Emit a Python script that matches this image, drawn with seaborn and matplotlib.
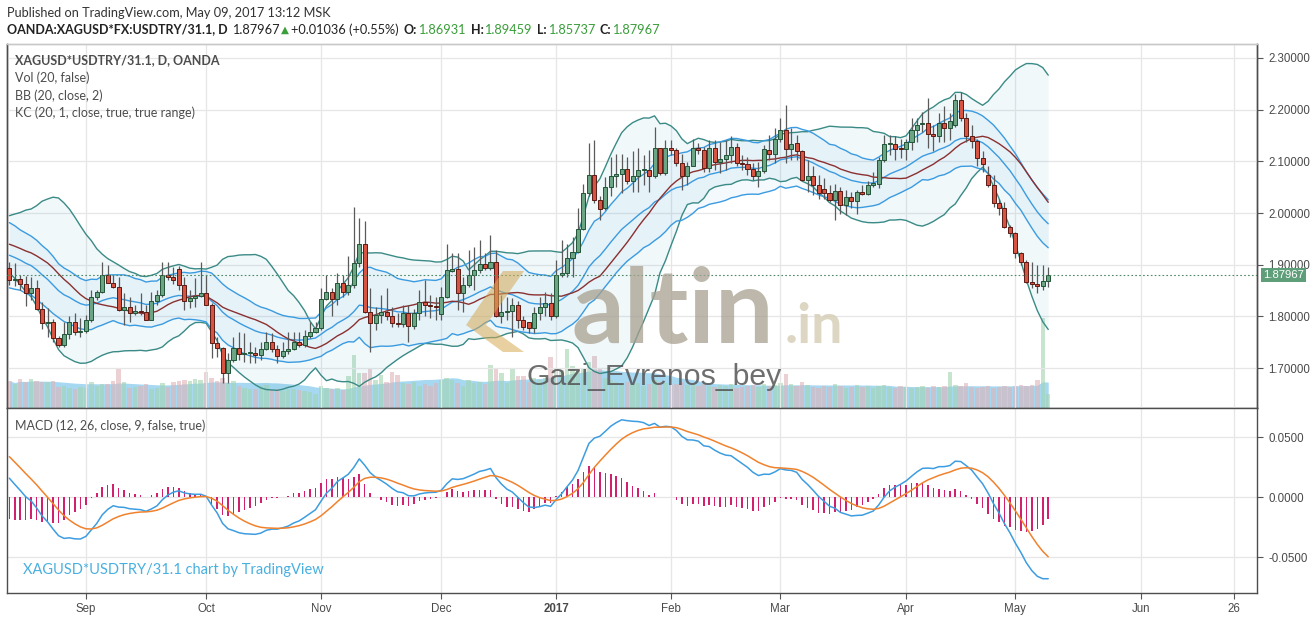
import numpy as np
import pandas as pd
import matplotlib
matplotlib.use("Agg")
import matplotlib.pyplot as plt
import matplotlib.transforms as mtransforms
from matplotlib.patches import Polygon
import seaborn as sns

sns.set_theme(style="white")
plt.rcParams["font.family"] = ["Lato", "DejaVu Sans"]

# ---------------- data ----------------
# estimated closes before the first visible bar (only used to warm up the indicators)
pre_close = [1.58, 1.59, 1.60, 1.61, 1.62, 1.63, 1.64, 1.63, 1.64, 1.66, 1.69, 1.75,
             1.76, 1.79, 1.82, 1.85, 1.89, 1.93, 1.95, 1.91, 1.89, 1.88,
             1.89, 1.91, 1.92, 1.91, 1.93, 1.95, 1.95, 1.94, 1.93, 1.93,
             1.92, 1.93, 1.95, 1.97, 1.98, 1.97, 1.98, 1.97, 1.95, 1.93,
             1.94, 1.93, 1.91, 1.893]
pre_true_range = 0.065

open_ = [1.893, 1.870, 1.872, 1.862, 1.845, 1.854, 1.814, 1.787, 1.789, 1.758,
         1.745, 1.766, 1.789, 1.769, 1.771, 1.794, 1.837, 1.847, 1.880, 1.865,
         1.857, 1.812, 1.819, 1.806, 1.811, 1.808, 1.794, 1.830, 1.841, 1.880,
         1.877, 1.891, 1.861, 1.829, 1.836, 1.840, 1.845, 1.823, 1.748, 1.738,
         1.690, 1.716, 1.738, 1.727, 1.729, 1.730, 1.725, 1.736, 1.751, 1.736,
         1.723, 1.733, 1.736, 1.751, 1.745, 1.762, 1.770, 1.777, 1.833, 1.847,
         1.833, 1.864, 1.848, 1.861, 1.903, 1.941, 1.809, 1.787, 1.803, 1.809,
         1.800, 1.787, 1.786, 1.806, 1.782, 1.806, 1.827, 1.822, 1.820, 1.805,
         1.838, 1.887, 1.891, 1.846, 1.861, 1.880, 1.889, 1.901, 1.894, 1.906,
         1.800, 1.809, 1.811, 1.822, 1.793, 1.790, 1.777, 1.806, 1.818, 1.826,
         1.800, 1.880, 1.883, 1.912, 1.924, 1.970, 2.038, 2.074, 2.025, 2.009,
         2.051, 2.072, 2.076, 2.085, 2.062, 2.072, 2.083, 2.083, 2.071, 2.125,
         2.077, 2.125, 2.121, 2.096, 2.072, 2.091, 2.125, 2.121, 2.088, 2.125,
         2.099, 2.104, 2.112, 2.127, 2.097, 2.094, 2.086, 2.071, 2.081, 2.122,
         2.114, 2.143, 2.161, 2.124, 2.136, 2.120, 2.064, 2.072, 2.054, 2.046,
         2.038, 2.026, 2.043, 2.016, 2.030, 2.023, 2.041, 2.037, 2.054, 2.056,
         2.103, 2.133, 2.133, 2.126, 2.124, 2.137, 2.160, 2.172, 2.174, 2.152,
         2.148, 2.175, 2.164, 2.171, 2.219, 2.184, 2.148, 2.139, 2.106, 2.074,
         2.055, 2.020, 2.009, 1.972, 1.961, 1.922, 1.906, 1.867, 1.862, 1.858,
         1.86931]

high = [1.906, 1.903, 1.880, 1.878, 1.877, 1.870, 1.827, 1.816, 1.795, 1.762,
        1.790, 1.800, 1.806, 1.796, 1.803, 1.851, 1.851, 1.906, 1.899, 1.880,
        1.877, 1.845, 1.838, 1.822, 1.845, 1.822, 1.848, 1.851, 1.906, 1.906,
        1.896, 1.897, 1.877, 1.851, 1.874, 1.906, 1.880, 1.825, 1.761, 1.741,
        1.729, 1.761, 1.770, 1.767, 1.751, 1.741, 1.751, 1.770, 1.767, 1.745,
        1.751, 1.770, 1.770, 1.770, 1.774, 1.790, 1.790, 1.854, 1.880, 1.854,
        1.883, 1.880, 1.916, 2.012, 1.990, 1.985, 1.854, 1.819, 1.841, 1.854,
        1.819, 1.806, 1.822, 1.822, 1.815, 1.851, 1.870, 1.841, 1.838, 1.857,
        1.941, 1.922, 1.922, 1.877, 1.928, 1.935, 1.948, 1.922, 1.957, 1.928,
        1.841, 1.838, 1.835, 1.829, 1.800, 1.790, 1.819, 1.838, 1.848, 1.845,
        1.909, 1.948, 1.941, 1.954, 2.009, 2.057, 2.135, 2.141, 2.032, 2.070,
        2.109, 2.115, 2.115, 2.109, 2.119, 2.125, 2.112, 2.122, 2.167, 2.125,
        2.141, 2.141, 2.125, 2.115, 2.099, 2.144, 2.135, 2.128, 2.141, 2.141,
        2.138, 2.141, 2.148, 2.135, 2.112, 2.109, 2.096, 2.099, 2.132, 2.151,
        2.164, 2.183, 2.209, 2.164, 2.151, 2.122, 2.103, 2.090, 2.074, 2.067,
        2.054, 2.057, 2.051, 2.044, 2.041, 2.044, 2.054, 2.061, 2.080, 2.109,
        2.151, 2.151, 2.148, 2.144, 2.144, 2.183, 2.183, 2.196, 2.222, 2.170,
        2.193, 2.206, 2.193, 2.231, 2.235, 2.193, 2.170, 2.144, 2.119, 2.090,
        2.074, 2.028, 2.022, 1.977, 1.964, 1.925, 1.909, 1.906, 1.899, 1.899,
        1.89459]

low = [1.861, 1.858, 1.851, 1.820, 1.832, 1.812, 1.775, 1.761, 1.750, 1.741,
       1.741, 1.757, 1.764, 1.761, 1.767, 1.790, 1.832, 1.845, 1.864, 1.854,
       1.810, 1.783, 1.790, 1.803, 1.803, 1.793, 1.793, 1.822, 1.837, 1.870,
       1.862, 1.852, 1.812, 1.816, 1.819, 1.838, 1.822, 1.719, 1.722, 1.671,
       1.671, 1.712, 1.716, 1.712, 1.709, 1.709, 1.716, 1.735, 1.732, 1.709,
       1.719, 1.728, 1.735, 1.741, 1.741, 1.758, 1.767, 1.774, 1.832, 1.800,
       1.822, 1.838, 1.841, 1.855, 1.895, 1.806, 1.732, 1.774, 1.787, 1.793,
       1.780, 1.780, 1.780, 1.751, 1.775, 1.793, 1.800, 1.797, 1.793, 1.793,
       1.835, 1.885, 1.812, 1.809, 1.857, 1.851, 1.883, 1.890, 1.890, 1.799,
       1.787, 1.793, 1.761, 1.777, 1.774, 1.768, 1.767, 1.793, 1.800, 1.793,
       1.797, 1.877, 1.877, 1.877, 1.922, 1.967, 2.032, 2.019, 1.986, 2.006,
       2.032, 2.051, 2.038, 2.057, 2.041, 2.041, 2.054, 2.041, 2.067, 2.074,
       2.074, 2.112, 2.090, 2.044, 2.054, 2.090, 2.115, 2.080, 2.080, 2.083,
       2.077, 2.083, 2.096, 2.090, 2.083, 2.074, 2.064, 2.051, 2.077, 2.103,
       2.096, 2.138, 2.096, 2.102, 2.102, 2.061, 2.041, 2.035, 2.028, 2.028,
       2.022, 1.986, 1.999, 1.996, 2.009, 1.999, 2.035, 2.035, 2.051, 2.048,
       2.099, 2.112, 2.103, 2.106, 2.103, 2.122, 2.138, 2.157, 2.125, 2.119,
       2.138, 2.138, 2.141, 2.167, 2.177, 2.138, 2.125, 2.090, 2.080, 2.051,
       2.012, 1.996, 1.971, 1.954, 1.912, 1.899, 1.864, 1.854, 1.845, 1.851,
       1.85737]

close = [1.870, 1.872, 1.862, 1.845, 1.854, 1.814, 1.787, 1.789, 1.758, 1.745,
         1.766, 1.789, 1.769, 1.771, 1.794, 1.837, 1.847, 1.880, 1.865, 1.857,
         1.812, 1.819, 1.806, 1.811, 1.808, 1.794, 1.830, 1.841, 1.880, 1.877,
         1.870, 1.861, 1.829, 1.836, 1.840, 1.845, 1.823, 1.748, 1.738, 1.690,
         1.716, 1.738, 1.727, 1.729, 1.730, 1.725, 1.736, 1.751, 1.736, 1.723,
         1.733, 1.736, 1.751, 1.745, 1.762, 1.770, 1.777, 1.833, 1.847, 1.833,
         1.864, 1.848, 1.861, 1.903, 1.941, 1.809, 1.787, 1.803, 1.809, 1.800,
         1.787, 1.786, 1.806, 1.782, 1.806, 1.827, 1.822, 1.820, 1.818, 1.838,
         1.890, 1.891, 1.846, 1.861, 1.880, 1.889, 1.901, 1.894, 1.906, 1.800,
         1.809, 1.811, 1.822, 1.793, 1.780, 1.777, 1.806, 1.818, 1.826, 1.800,
         1.880, 1.883, 1.912, 1.924, 1.970, 2.038, 2.074, 2.025, 2.007, 2.051,
         2.072, 2.076, 2.085, 2.062, 2.072, 2.083, 2.083, 2.071, 2.125, 2.077,
         2.125, 2.121, 2.096, 2.072, 2.091, 2.125, 2.121, 2.088, 2.125, 2.099,
         2.104, 2.112, 2.127, 2.097, 2.094, 2.086, 2.071, 2.081, 2.124, 2.114,
         2.143, 2.161, 2.124, 2.133, 2.120, 2.064, 2.072, 2.054, 2.038, 2.038,
         2.026, 2.043, 2.016, 2.030, 2.023, 2.041, 2.037, 2.054, 2.058, 2.103,
         2.133, 2.135, 2.123, 2.124, 2.137, 2.160, 2.171, 2.174, 2.152, 2.148,
         2.175, 2.164, 2.178, 2.219, 2.184, 2.148, 2.139, 2.106, 2.095, 2.055,
         2.020, 2.009, 1.972, 1.961, 1.922, 1.906, 1.867, 1.862, 1.858, 1.86931,
         1.87967]

volume = [27, 24, 29, 26, 29, 27, 26, 26, 27, 21, 22, 20, 19, 21, 20, 26, 22, 24, 24, 27,
          39, 26, 20, 21, 22, 24, 19, 20, 25, 21, 26, 27,
          28, 27, 29, 28, 36, 30, 27, 30, 25, 27, 22, 20, 19, 19, 22, 23, 18, 19, 17, 19,
          19, 18, 17, 16, 14, 22, 20, 19, 20, 18, 32, 53,
          35, 35, 40, 28, 33, 26, 36, 33, 25, 24, 26, 22, 24, 22, 25, 28, 30, 28, 25, 22,
          28, 25, 26, 24, 43, 39, 35, 25, 40, 32, 32, 26,
          30, 28, 30, 51, 40, 38, 59, 42, 38, 40, 46, 52, 40, 30, 28, 26, 25, 26, 24, 25,
          22, 24, 28, 26, 25, 23, 24, 26, 23, 24, 22, 24,
          22, 21, 23, 22, 24, 20, 21, 22, 23, 21, 24, 22, 23, 25, 34, 24, 22, 26, 23, 21,
          20, 22, 21, 24, 22, 20, 21, 23, 21, 22, 20,
          22, 23, 21, 20, 22, 21, 20, 21, 22, 20, 22, 21, 22, 36, 23, 22, 25, 21, 20, 21,
          22, 20, 21, 22, 21, 22, 23, 22, 23, 28, 90, 14]

holidays = ["2016-12-26", "2017-01-02"]
first_day, last_day, axis_end = "2016-08-12", "2017-05-09", "2017-06-30"
price_ticks = [1.7, 1.8, 1.9, 2.0, 2.1, 2.2, 2.3]
macd_ticks = [-0.05, 0.0, 0.05]
last_price = 1.87967

# ---------------- indicators ----------------
n = len(close)
npre = len(pre_close)
c_all = pd.Series(pre_close + close)
sma20 = c_all.rolling(20).mean()
sd20 = c_all.rolling(20).std(ddof=0)
bb_up, bb_lo = sma20 + 2 * sd20, sma20 - 2 * sd20
ema20 = c_all.ewm(span=20, adjust=False).mean()
prev_c = [pre_close[-1]] + close[:-1]
tr = [max(h - l, abs(h - pc), abs(l - pc)) for h, l, pc in zip(high, low, prev_c)]
rng = pd.Series([pre_true_range] * npre + tr).ewm(span=20, adjust=False).mean()
kc_up, kc_lo = ema20 + rng, ema20 - rng
macd = c_all.ewm(span=12, adjust=False).mean() - c_all.ewm(span=26, adjust=False).mean()
signal = macd.ewm(span=9, adjust=False).mean()
hist = macd - signal


def vis(s):
    return s.iloc[npre:].to_numpy()


bb_up, bb_lo, sma20 = vis(bb_up), vis(bb_lo), vis(sma20)
kc_up, kc_lo, ema20 = vis(kc_up), vis(kc_lo), vis(ema20)
macd, signal, hist = vis(macd), vis(signal), vis(hist)
vol_ma = pd.Series(volume).rolling(20, min_periods=1).mean().to_numpy()

xs = np.arange(n)
o, h, l, c = map(np.asarray, (open_, high, low, close))

# trading-day calendar for the axis
days = pd.bdate_range(first_day, axis_end)
days = days[~days.isin(pd.to_datetime(holidays))]
tick_pos, tick_lab = [], []
for i in range(1, len(days)):
    if days[i].month != days[i - 1].month:
        tick_pos.append(i)
        tick_lab.append("2017" if days[i].month == 1 else days[i].strftime("%b"))
j26 = int(np.where(days == pd.Timestamp("2017-06-26"))[0][0])
tick_pos.append(j26)
tick_lab.append("26")

# ---------------- figure ----------------
W, H = 1314, 618
fig = plt.figure(figsize=(W / 100, H / 100), dpi=100)
fig.patch.set_facecolor("white")

left_px, right_px = 6.7, 1257
top_px, sep_px, bot_px = 43.5, 408, 593
ax_rect = [left_px / W, 1 - sep_px / H, (right_px - left_px) / W, (sep_px - top_px) / H]
ax2_rect = [left_px / W, 1 - bot_px / H, (right_px - left_px) / W, (bot_px - sep_px) / H]

axv = fig.add_axes(ax_rect)
ax = fig.add_axes(ax_rect, sharex=axv)
ax2 = fig.add_axes(ax2_rect, sharex=axv)
axv.set_zorder(0)
ax.set_zorder(1)
ax.patch.set_visible(False)

bar_px = 5.468
x_lo = -(9.3 - left_px) / bar_px
x_hi = (right_px - 9.3) / bar_px
y_top = 2.0 - (top_px - 213) / 517
y_bot = 2.0 - (sep_px - 213) / 517
ax.set_xlim(x_lo, x_hi)
ax.set_ylim(y_bot, y_top)
axv.set_ylim(0, sep_px - top_px)
m_top = (497.3 - sep_px) / 60 * 0.05
m_bot = (497.3 - bot_px) / 60 * 0.05
ax2.set_ylim(m_bot, m_top)

grid_c = "#e6e6e6"
for a in (ax, ax2):
    for tp in tick_pos:
        a.axvline(tp, color=grid_c, lw=0.9, zorder=0)
for p in price_ticks:
    ax.axhline(p, color=grid_c, lw=0.9, zorder=0)
for m in macd_ticks:
    ax2.axhline(m, color=grid_c, lw=0.9, zorder=0)

# volume (overlay at the bottom of the price pane)
vol_up = c >= o
axv.fill_between(xs, 0, vol_ma, color="#79c3ea", alpha=0.65, lw=0, zorder=1)
axv.bar(xs[vol_up], np.asarray(volume)[vol_up], width=0.82, color="#a2d3b0", alpha=0.6, lw=0, zorder=2)
axv.bar(xs[~vol_up], np.asarray(volume)[~vol_up], width=0.82, color="#dfb2b8", alpha=0.6, lw=0, zorder=2)
axv.set_yticks([])

# bands
ax.fill_between(xs, bb_lo, bb_up, color="#4aa8c8", alpha=0.08, lw=0, zorder=1)
ax.fill_between(xs, kc_lo, kc_up, color="#3d9be0", alpha=0.06, lw=0, zorder=1)
bb_c, kc_c, basis_c = "#3a8a86", "#3b9be0", "#8a3030"
for yv, col in ((bb_up, bb_c), (bb_lo, bb_c), (kc_up, kc_c), (ema20, kc_c), (kc_lo, kc_c), (sma20, basis_c)):
    sns.lineplot(x=xs, y=yv, ax=ax, color=col, lw=1.0, legend=False, zorder=3)

# candles
ax.vlines(xs, l, h, color="#5a5a5a", lw=0.9, zorder=4)
body_lo = np.minimum(o, c)
body_h = np.maximum(np.abs(c - o), 0.0012)
up = c >= o
ax.bar(xs[up], body_h[up], bottom=body_lo[up], width=0.74, color="#6ba583",
       edgecolor="#225437", lw=0.7, zorder=5)
ax.bar(xs[~up], body_h[~up], bottom=body_lo[~up], width=0.74, color="#d75442",
       edgecolor="#5b1a13", lw=0.7, zorder=5)

# last price line
ax.axhline(last_price, color="#4f8a67", lw=0.8, ls=(0, (1.5, 2)), zorder=6)

# MACD pane
ax2.bar(xs, hist, width=0.28, color="#d0206e", lw=0, zorder=2)
sns.lineplot(x=xs, y=macd, ax=ax2, color="#3d9de0", lw=1.1, legend=False, zorder=3)
sns.lineplot(x=xs, y=signal, ax=ax2, color="#f0822e", lw=1.1, legend=False, zorder=3)

# axes styling
for a in (ax, ax2, axv):
    a.set_xlabel("")
    a.set_ylabel("")
ax.yaxis.tick_right()
ax.set_yticks(price_ticks)
ax.set_yticklabels([f"{p:.5f}" for p in price_ticks])
ax2.yaxis.tick_right()
ax2.set_yticks(macd_ticks)
ax2.set_yticklabels([f"{m:.4f}" for m in macd_ticks])
for a in (ax, ax2):
    a.tick_params(axis="y", which="both", right=True, length=4, width=0.8, color="#555555",
                  labelsize=8.3, labelcolor="#4a4a4a", pad=4)
    for lab in a.get_yticklabels():
        lab.set_fontfamily(["Liberation Sans", "DejaVu Sans"])
ax.tick_params(axis="x", bottom=False, labelbottom=False)
axv.tick_params(axis="x", bottom=False, labelbottom=False)
ax2.set_xticks(tick_pos)
ax2.set_xticklabels(tick_lab)
ax2.tick_params(axis="x", bottom=True, length=4, width=0.8, color="#555555",
                labelsize=8.3, labelcolor="#4a4a4a", pad=3)
for lab in ax2.get_xticklabels():
    lab.set_fontfamily(["Liberation Sans Narrow", "Liberation Sans", "DejaVu Sans"])
    if lab.get_text() == "2017":
        lab.set_fontweight("bold")

for a in (ax, axv):
    for s in a.spines.values():
        s.set_color("#4d4d4d")
        s.set_linewidth(1.0)
    a.spines["top"].set_color("#c8c8c8")
for s in ax2.spines.values():
    s.set_color("#4d4d4d")
    s.set_linewidth(1.0)
ax2.spines["top"].set_visible(False)

# last price tag on the scale
trans = mtransforms.blended_transform_factory(ax.transAxes, ax.transData)
ax.text(1.0045, last_price, f"{last_price:.5f}", transform=trans, ha="left", va="center",
        fontsize=8.1, color="white", family=["Liberation Sans", "DejaVu Sans"], zorder=10,
        bbox=dict(boxstyle="square,pad=0.18", fc="#5e9e79", ec="none"), clip_on=False)


def ftext(xp, yp, s, **kw):
    kw.setdefault("va", "center")
    return fig.text(xp / W, 1 - yp / H, s, **kw)


renderer = fig.canvas.get_renderer()


def chain(x0, yp, pieces):
    """Write text pieces one after another on one line (gaps in pixels)."""
    xp = x0
    for s, gap, kw in pieces:
        xp += gap
        t = ftext(xp, yp, s, **kw)
        xp = t.get_window_extent(renderer).x1
    return xp


# header
ftext(7, 13, "Published on TradingView.com, May 09, 2017 13:12 MSK", fontsize=9.2, color="#333333")
green = "#3a9e3a"
dark = "#222222"
hk = dict(fontsize=9.2, color=dark)
hb = dict(fontsize=9.0, color=dark, weight="bold")
hg = dict(fontsize=9.2, color=green)
chain(7, 29.5, [
    ("OANDA:XAGUSD*FX:USDTRY/31.1, D", 0, hb),
    ("1.87967", 4, hk),
    ("\u25B2", 2, dict(fontsize=7.5, color=green, family=["DejaVu Sans"])),
    ("+0.01036 (+0.55%)", 2, hk),
    ("O:", 5, hb), ("1.86931", 1, hg),
    ("H:", 5, hb), ("1.89459", 1, hg),
    ("L:", 5, hb), ("1.85737", 1, hg),
    ("C:", 5, hb), ("1.87967", 1, hg),
])

# study titles
leg_c = "#4d4d4d"
ftext(15, 60, "XAGUSD*USDTRY/31.1, D, OANDA", fontsize=9, weight="bold", color=leg_c)
ftext(15, 77.5, "Vol (20, false)", fontsize=9, color=leg_c)
ftext(15, 95.5, "BB (20, close, 2)", fontsize=9, color=leg_c)
ftext(15, 113, "KC (20, 1, close, true, true range)", fontsize=9, color=leg_c)
ftext(15, 425.5, "MACD (12, 26, close, 9, false, true)", fontsize=9, color=leg_c)
ftext(23, 570, "XAGUSD*USDTRY/31.1 chart by TradingView", fontsize=10.5, color="#48b0e0")

# watermark
chev = [(466, 325), (503, 271), (524, 271), (486, 325), (524, 352), (503, 352)]
fig.patches.append(Polygon([(xp / W, 1 - yp / H) for xp, yp in chev], closed=True,
                           transform=fig.transFigure, fc="#d6aa55", ec="none", alpha=0.55, zorder=20))
ftext(572, 343, "altin", fontsize=75, weight="bold", color="#a8a090", alpha=0.75, va="baseline", zorder=21)
ftext(785, 343, ".in", fontsize=40, weight="bold", color="#d5ccb4", alpha=0.8, va="baseline", zorder=21)
ftext(527, 377, "Gazi_Evrenos_bey", fontsize=21.8, color="#555555", alpha=0.85,
      family=["Liberation Sans", "DejaVu Sans"], zorder=21)

fig.savefig("out.png", dpi=100, facecolor="white")
